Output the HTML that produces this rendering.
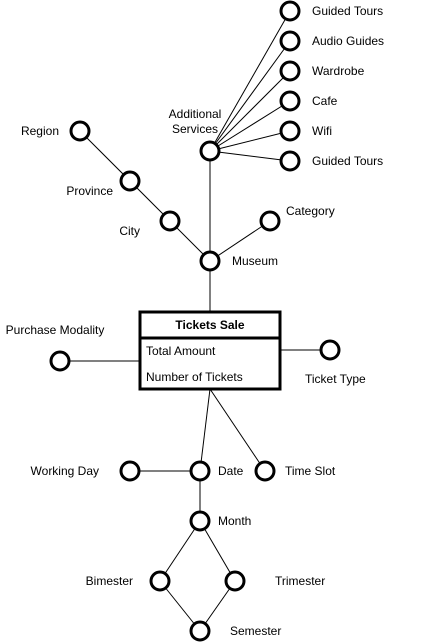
<!DOCTYPE html>
<html><head><style>body{margin:0;background:#fff}svg{display:block}text{font-family:"Liberation Sans",Arial,sans-serif;font-size:12px;fill:#000}</style></head><body>
<svg width="421" height="643" viewBox="0 0 421 643" xmlns="http://www.w3.org/2000/svg">
<g stroke="#000" stroke-width="1" fill="none">
<line x1="210" y1="151" x2="290" y2="11"/><line x1="210" y1="151" x2="290" y2="41"/><line x1="210" y1="151" x2="290" y2="71"/><line x1="210" y1="151" x2="290" y2="101"/><line x1="210" y1="151" x2="290" y2="131"/><line x1="210" y1="151" x2="290" y2="161"/>
<line x1="210" y1="151" x2="210" y2="312"/>
<line x1="80" y1="131" x2="210" y2="261"/>
<line x1="210" y1="261" x2="270" y2="221"/>
<line x1="60" y1="361" x2="140" y2="361"/>
<line x1="280" y1="350" x2="330" y2="350"/>
<line x1="210" y1="389" x2="200" y2="471"/><line x1="210" y1="389" x2="265" y2="471"/>
<line x1="130" y1="471" x2="200" y2="471"/><line x1="200" y1="471" x2="200" y2="521"/>
<line x1="200" y1="521" x2="160" y2="581"/><line x1="200" y1="521" x2="235" y2="581"/>
<line x1="160" y1="581" x2="200" y2="631"/><line x1="235" y1="581" x2="200" y2="631"/>
</g>
<g stroke="#000" stroke-width="3" fill="#fff">
<circle cx="290" cy="11" r="9"/><circle cx="290" cy="41" r="9"/><circle cx="290" cy="71" r="9"/><circle cx="290" cy="101" r="9"/><circle cx="290" cy="131" r="9"/><circle cx="290" cy="161" r="9"/>
<circle cx="210" cy="151" r="9"/><circle cx="80" cy="131" r="9"/><circle cx="130" cy="181" r="9"/><circle cx="170" cy="221" r="9"/><circle cx="210" cy="261" r="9"/><circle cx="270" cy="221" r="9"/>
<circle cx="60" cy="361" r="9"/><circle cx="330" cy="350" r="9"/>
<circle cx="200" cy="471" r="9"/><circle cx="130" cy="471" r="9"/><circle cx="265" cy="471" r="9"/>
<circle cx="200" cy="521" r="9"/><circle cx="160" cy="581" r="9"/><circle cx="235" cy="581" r="9"/><circle cx="200" cy="631" r="9"/>
<rect x="140" y="312" width="140" height="77"/>
<line x1="140" y1="338" x2="280" y2="338"/>
</g>
<text x="210" y="329" text-anchor="middle" font-weight="bold">Tickets Sale</text>
<text x="146" y="355">Total Amount</text>
<text x="146" y="381">Number of Tickets</text>
<text x="312" y="15">Guided Tours</text><text x="312" y="45">Audio Guides</text><text x="312" y="75">Wardrobe</text><text x="312" y="105">Cafe</text><text x="312" y="135">Wifi</text><text x="312" y="165">Guided Tours</text>
<text x="195" y="118" text-anchor="middle">Additional</text><text x="195" y="133" text-anchor="middle">Services</text>
<text x="59" y="135" text-anchor="end">Region</text>
<text x="113" y="195" text-anchor="end">Province</text>
<text x="140" y="235" text-anchor="end">City</text>
<text x="232" y="265">Museum</text>
<text x="286" y="215">Category</text>
<text x="55" y="334" text-anchor="middle">Purchase Modality</text>
<text x="305" y="383">Ticket Type</text>
<text x="99" y="475" text-anchor="end">Working Day</text>
<text x="218" y="475">Date</text>
<text x="285" y="475">Time Slot</text>
<text x="218" y="525">Month</text>
<text x="133" y="585" text-anchor="end">Bimester</text>
<text x="275" y="585">Trimester</text>
<text x="230" y="635">Semester</text>
</svg>
</body></html>
